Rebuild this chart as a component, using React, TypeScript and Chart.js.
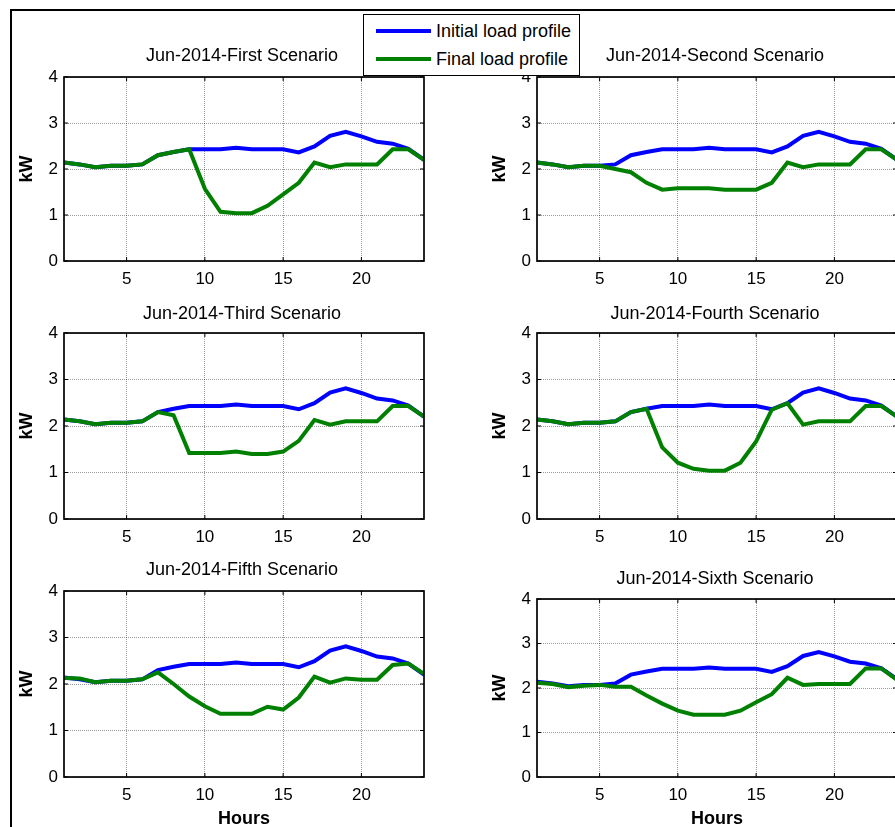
import React, { useEffect, useRef } from "react";
import { Chart, registerables } from "chart.js";

Chart.register(...registerables);

const HOURS = [1, 2, 3, 4, 5, 6, 7, 8, 9, 10, 11, 12, 13, 14, 15, 16, 17, 18, 19, 20, 21, 22, 23, 24];
const X_TICKS = [5, 10, 15, 20];
const Y_TICKS = [0, 1, 2, 3, 4];

const INITIAL = [2.14, 2.1, 2.04, 2.07, 2.07, 2.1, 2.3, 2.37, 2.43, 2.43, 2.43, 2.46, 2.43, 2.43, 2.43, 2.36, 2.49, 2.72, 2.81, 2.71, 2.59, 2.55, 2.44, 2.2];

const FINAL_1 = [2.14, 2.1, 2.04, 2.07, 2.07, 2.1, 2.3, 2.37, 2.43, 1.57, 1.07, 1.04, 1.04, 1.2, 1.45, 1.7, 2.14, 2.04, 2.1, 2.1, 2.1, 2.43, 2.43, 2.2];
const FINAL_2 = [2.14, 2.1, 2.04, 2.07, 2.07, 2.0, 1.93, 1.7, 1.55, 1.58, 1.58, 1.58, 1.55, 1.55, 1.55, 1.7, 2.14, 2.04, 2.1, 2.1, 2.1, 2.43, 2.43, 2.2];
const FINAL_3 = [2.14, 2.1, 2.04, 2.07, 2.07, 2.1, 2.3, 2.23, 1.42, 1.42, 1.42, 1.45, 1.4, 1.4, 1.45, 1.68, 2.13, 2.03, 2.1, 2.1, 2.1, 2.43, 2.43, 2.2];
const FINAL_4 = [2.14, 2.1, 2.04, 2.07, 2.07, 2.1, 2.3, 2.37, 1.54, 1.21, 1.08, 1.04, 1.04, 1.21, 1.67, 2.35, 2.49, 2.03, 2.1, 2.1, 2.1, 2.43, 2.43, 2.2];
const FINAL_5 = [2.13, 2.12, 2.04, 2.07, 2.07, 2.1, 2.25, 2.0, 1.73, 1.52, 1.36, 1.36, 1.36, 1.51, 1.45, 1.71, 2.16, 2.03, 2.12, 2.09, 2.09, 2.41, 2.44, 2.22];
const FINAL_6 = [2.12, 2.09, 2.02, 2.05, 2.07, 2.03, 2.03, 1.83, 1.65, 1.49, 1.4, 1.4, 1.4, 1.49, 1.68, 1.86, 2.23, 2.07, 2.09, 2.09, 2.09, 2.44, 2.44, 2.18];

const TITLES = [
  "Jun-2014-First Scenario",
  "Jun-2014-Second Scenario",
  "Jun-2014-Third Scenario",
  "Jun-2014-Fourth Scenario",
  "Jun-2014-Fifth Scenario",
  "Jun-2014-Sixth Scenario",
];
const FINALS = [FINAL_1, FINAL_2, FINAL_3, FINAL_4, FINAL_5, FINAL_6];

const LEGEND_INITIAL = "Initial load profile";
const LEGEND_FINAL = "Final load profile";
const Y_LABEL = "kW";
const X_LABEL = "Hours";

const FONT = '"Liberation Sans", Arial, Helvetica, sans-serif';
const BLUE = "#0000ff";
const GREEN = "#008000";

// plot-area rectangles (left, top, right, bottom) in page pixels
const PANELS = [
  { l: 64, t: 77, r: 424, b: 261, titleGap: 16, hours: false },
  { l: 537, t: 77, r: 897, b: 261, titleGap: 16, hours: false },
  { l: 64, t: 333, r: 424, b: 519, titleGap: 14, hours: false },
  { l: 537, t: 333, r: 897, b: 519, titleGap: 14, hours: false },
  { l: 64, t: 591, r: 424, b: 777, titleGap: 16, hours: true },
  { l: 537, t: 599, r: 897, b: 777, titleGap: 15, hours: true },
];

const PAD_L = 64;
const PAD_T = 70;
const PAD_R = 6;
const PAD_B = 60;

function Panel({ idx }: { idx: number }) {
  const ref = useRef<HTMLCanvasElement | null>(null);
  const p = PANELS[idx];
  const w = p.r - p.l + PAD_L + PAD_R;
  const h = p.b - p.t + PAD_T + PAD_B;

  useEffect(() => {
    if (!ref.current) return;
    const frame = {
      id: "matlabFrame",
      afterDatasetsDraw(chart: any) {
        const { ctx, chartArea: a, scales } = chart;
        ctx.save();
        ctx.strokeStyle = "#000";
        ctx.lineWidth = 1.7;
        ctx.setLineDash([]);
        ctx.strokeRect(a.left, a.top, a.right - a.left, a.bottom - a.top);
        ctx.lineWidth = 1;
        const tl = 4;
        X_TICKS.forEach((v) => {
          const x = scales.x.getPixelForValue(v);
          ctx.beginPath();
          ctx.moveTo(x, a.bottom);
          ctx.lineTo(x, a.bottom - tl);
          ctx.moveTo(x, a.top);
          ctx.lineTo(x, a.top + tl);
          ctx.stroke();
        });
        Y_TICKS.forEach((v) => {
          const y = scales.y.getPixelForValue(v);
          ctx.beginPath();
          ctx.moveTo(a.left, y);
          ctx.lineTo(a.left + tl, y);
          ctx.moveTo(a.right, y);
          ctx.lineTo(a.right - tl, y);
          ctx.stroke();
        });
        ctx.restore();
      },
      afterDraw(chart: any) {
        const { ctx, chartArea: a } = chart;
        ctx.save();
        ctx.fillStyle = "#000";
        ctx.font = `18px ${FONT}`;
        ctx.textAlign = "center";
        ctx.textBaseline = "alphabetic";
        ctx.fillText(TITLES[idx], (a.left + a.right) / 2 - 2, a.top - p.titleGap);
        ctx.font = `bold 18px ${FONT}`;
        ctx.save();
        ctx.translate(a.left - 37, (a.top + a.bottom) / 2);
        ctx.rotate(-Math.PI / 2);
        ctx.textBaseline = "middle";
        ctx.fillText(Y_LABEL, 0, 0);
        ctx.restore();
        if (p.hours) {
          ctx.textBaseline = "alphabetic";
          ctx.fillText(X_LABEL, (a.left + a.right) / 2, a.bottom + 47);
        }
        ctx.restore();
      },
    };

    const mk = (arr: number[]) => HOURS.map((hh, i) => ({ x: hh, y: arr[i] }));
    const chart = new Chart(ref.current, {
      type: "line",
      data: {
        datasets: [
          {
            label: LEGEND_FINAL,
            data: mk(FINALS[idx]),
            borderColor: GREEN,
            backgroundColor: GREEN,
            borderWidth: 4,
            pointRadius: 0,
            tension: 0,
            fill: false,
          },
          {
            label: LEGEND_INITIAL,
            data: mk(INITIAL),
            borderColor: BLUE,
            backgroundColor: BLUE,
            borderWidth: 4,
            pointRadius: 0,
            tension: 0,
            fill: false,
          },
        ],
      },
      options: {
        responsive: false,
        animation: false,
        devicePixelRatio: 1,
        events: [],
        layout: { padding: { top: PAD_T, left: 0, right: PAD_R, bottom: 0 } },
        plugins: {
          legend: { display: false },
          tooltip: { enabled: false },
          title: { display: false },
        },
        scales: {
          x: {
            type: "linear",
            min: 1,
            max: 24,
            afterBuildTicks: (s: any) => {
              s.ticks = X_TICKS.map((v) => ({ value: v }));
            },
            afterFit: (s: any) => {
              s.height = PAD_B;
            },
            grid: { color: "rgba(0,0,0,0.4)", lineWidth: 1, drawTicks: false },
            border: { display: false, dash: [1, 1] },
            ticks: {
              color: "#000",
              padding: 8,
              maxRotation: 0,
              font: { family: FONT, size: 17 },
            },
          },
          y: {
            type: "linear",
            min: 0,
            max: 4,
            afterBuildTicks: (s: any) => {
              s.ticks = Y_TICKS.map((v) => ({ value: v }));
            },
            afterFit: (s: any) => {
              s.width = PAD_L;
            },
            grid: { color: "rgba(0,0,0,0.4)", lineWidth: 1, drawTicks: false },
            border: { display: false, dash: [1, 1] },
            ticks: {
              color: "#000",
              padding: 6,
              font: { family: FONT, size: 17 },
            },
          },
        },
      } as any,
      plugins: [frame],
    });
    return () => chart.destroy();
  }, [idx]);

  return (
    <canvas
      ref={ref}
      width={w}
      height={h}
      style={{
        position: "absolute",
        left: p.l - PAD_L,
        top: p.t - PAD_T,
        width: w,
        height: h,
        display: "block",
      }}
    />
  );
}

export default function App() {
  return (
    <div
      style={{
        position: "fixed",
        left: 0,
        top: 0,
        width: 895,
        height: 827,
        overflow: "hidden",
        background: "#fff",
      }}
    >
      <div
        style={{
          position: "absolute",
          left: 10,
          top: 9,
          width: 1000,
          height: 1000,
          borderLeft: "2px solid #000",
          borderTop: "2px solid #000",
        }}
      />
      {PANELS.map((_, i) => (
        <Panel key={i} idx={i} />
      ))}
      <div
        style={{
          position: "absolute",
          left: 363,
          top: 14,
          width: 215,
          height: 60,
          border: "1px solid #000",
          background: "#fff",
          fontFamily: FONT,
          fontSize: 18,
          color: "#000",
        }}
      >
        {[
          { c: BLUE, t: LEGEND_INITIAL, y: 16 },
          { c: GREEN, t: LEGEND_FINAL, y: 44 },
        ].map((e, i) => (
          <div key={i}>
            <div
              style={{
                position: "absolute",
                left: 12,
                top: e.y - 2,
                width: 55,
                height: 4,
                background: e.c,
              }}
            />
            <div
              style={{
                position: "absolute",
                left: 72,
                top: e.y - 11,
                lineHeight: "22px",
                whiteSpace: "nowrap",
              }}
            >
              {e.t}
            </div>
          </div>
        ))}
      </div>
    </div>
  );
}
